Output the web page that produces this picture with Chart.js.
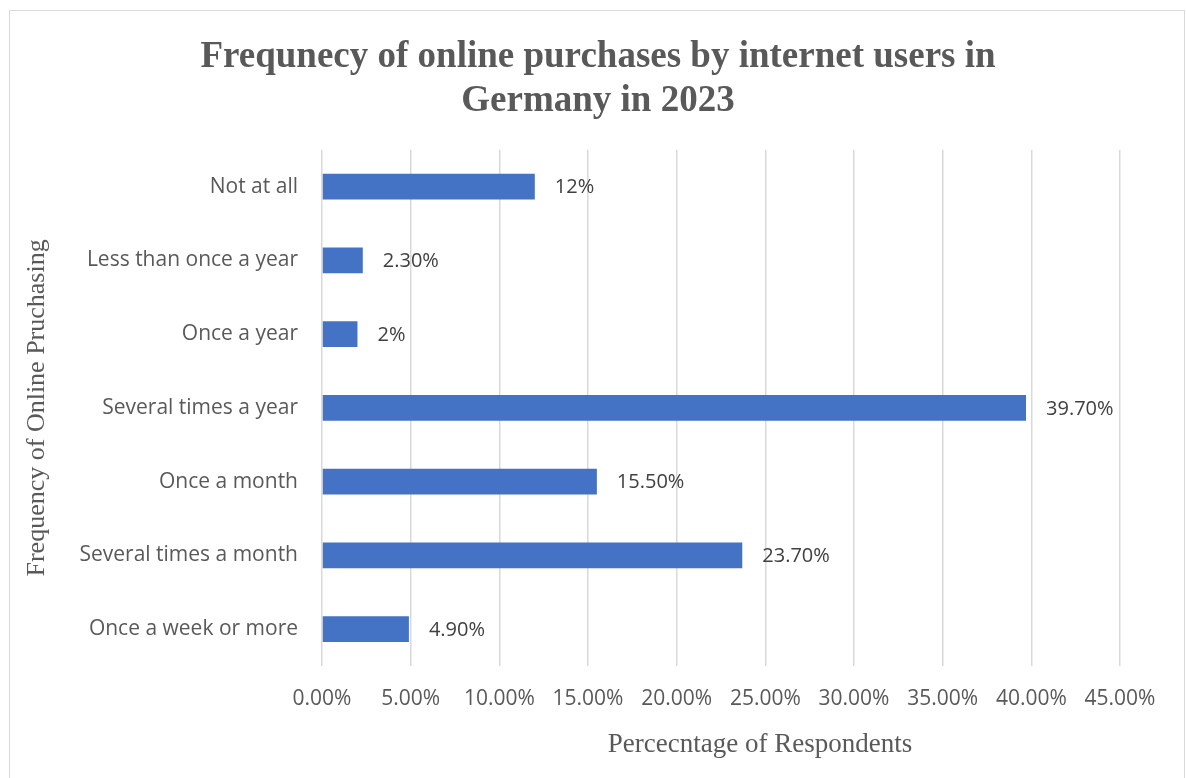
<!DOCTYPE html>
<html>
<head>
<meta charset="utf-8">
<script src="https://cdn.jsdelivr.net/npm/chart.js@4/dist/chart.umd.min.js"></script>
<style>
  html, body { margin: 0; padding: 0; background: #fff; }
  #wrap { position: relative; width: 1186px; height: 778px; overflow: hidden; }
  #frame { position: absolute; left: 9px; top: 10px; width: 1176px; height: 790px; border: 1px solid #d9d9d9; box-sizing: border-box; pointer-events: none; }
  canvas { position: absolute; left: 0; top: 0; }
</style>
</head>
<body>
<div id="wrap">
  <canvas id="chart" width="1186" height="778"></canvas>
  <div id="frame"></div>
</div>
<script>
// data
const categories = [
  'Not at all',
  'Less than once a year',
  'Once a year',
  'Several times a year',
  'Once a month',
  'Several times a month',
  'Once a week or more'
];
const shares = [12, 2.3, 2, 39.7, 15.5, 23.7, 4.9];
const shareLabels = ['12%', '2.30%', '2%', '39.70%', '15.50%', '23.70%', '4.90%'];
const xTicks = [0, 5, 10, 15, 20, 25, 30, 35, 40, 45];

const sans = '"Open Sans", sans-serif';
const serif = '"Liberation Serif", "Times New Roman", serif';

// value labels to the right of each bar
const barLabels = {
  id: 'barLabels',
  afterDatasetsDraw(chart) {
    const ctx = chart.ctx;
    const meta = chart.getDatasetMeta(0);
    ctx.save();
    ctx.font = '20px ' + sans;
    ctx.fillStyle = '#404040';
    ctx.textAlign = 'left';
    ctx.textBaseline = 'middle';
    meta.data.forEach((bar, i) => {
      ctx.fillText(shareLabels[i], bar.x + 20, bar.y + 1);
    });
    ctx.restore();
  }
};

// x axis title sits a bit right of the plot centre in the original
const xTitle = {
  id: 'xTitle',
  afterDraw(chart) {
    const ctx = chart.ctx;
    ctx.save();
    ctx.font = '27px ' + serif;
    ctx.fillStyle = '#595959';
    ctx.textAlign = 'center';
    ctx.textBaseline = 'middle';
    ctx.fillText('Percecntage of Respondents', 760, 745);
    ctx.restore();
  }
};

new Chart(document.getElementById('chart'), {
  type: 'bar',
  data: {
    labels: categories,
    datasets: [{
      data: shares,
      backgroundColor: '#4472C4',
      borderWidth: 0,
      categoryPercentage: 1,
      barPercentage: 0.35
    }]
  },
  plugins: [barLabels, xTitle],
  options: {
    indexAxis: 'y',
    responsive: false,
    animation: false,
    layout: { padding: { left: 10, top: 12, right: 0, bottom: 0 } },
    plugins: {
      legend: { display: false },
      tooltip: { enabled: false },
      title: {
        display: true,
        text: ['Frequnecy of online purchases by internet users in', 'Germany in 2023'],
        color: '#595959',
        font: { family: serif, size: 37, weight: 'bold', lineHeight: 1.2 },
        padding: { top: 23, bottom: 26 }
      }
    },
    scales: {
      x: {
        min: 0,
        max: 45,
        afterBuildTicks(scale) {
          scale.ticks = xTicks.map(v => ({ value: v }));
        },
        afterFit(scale) {
          scale.height = 112;
          // leave room on the right so the plot ends where the original does
          scale.paddingRight = 66;
        },
        grid: { color: '#d9d9d9', lineWidth: 1.5, drawTicks: false },
        border: { display: false },
        ticks: {
          padding: 20,
          color: '#595959',
          font: { family: sans, size: 21 },
          callback: v => v.toFixed(2) + '%'
        }
      },
      y: {
        afterFit(scale) { scale.width = 312; },
        grid: { display: false, drawTicks: false },
        border: { display: false },
        ticks: {
          padding: 24,
          color: '#595959',
          font: { family: sans, size: 21 }
        },
        title: {
          display: true,
          text: 'Frequency of Online Pruchasing',
          color: '#595959',
          font: { family: serif, size: 26 },
          padding: { top: 12, bottom: 0 }
        }
      }
    }
  }
});
</script>
</body>
</html>
